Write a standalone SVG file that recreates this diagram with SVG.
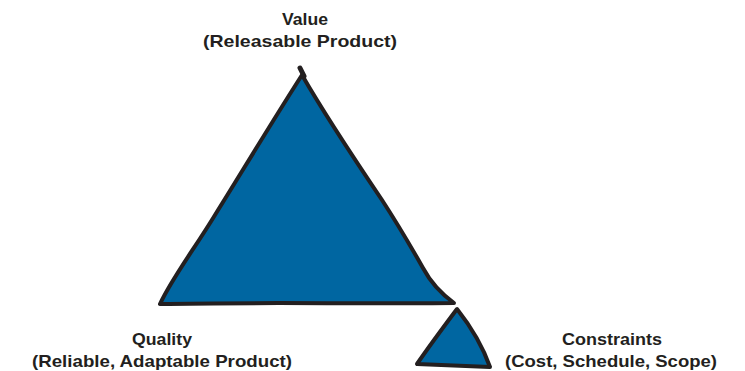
<svg xmlns="http://www.w3.org/2000/svg" width="745" height="371" viewBox="0 0 745 371">
<style>
.tri{fill:#0066a1;stroke:#231f20;stroke-width:4;stroke-linejoin:round;stroke-linecap:round}
.lbl{font-family:"Liberation Sans",Arial,sans-serif;font-weight:bold;font-size:17px;fill:#231f20;text-anchor:middle}
</style>
<rect width="745" height="371" fill="#ffffff"/>
<g id="value-triangle">
<path class="tri" d="M302,75 C270,125 240,175 215,215 C195,248 172,278 160,304 C250,302 360,304 454,303 C443,295 432,285 423,268 C410,245 395,220 382,200 C355,160 325,115 302,75 Z"/>
<path d="M300,68 L304,76" stroke="#231f20" stroke-width="5" stroke-linecap="round" fill="none"/>
</g>
<g id="constraints-triangle">
<path class="tri" d="M457,309 C445,325 430,345 417,364 C440,365 465,366 490,367 C484,350 472,328 457,309 Z"/>
</g>
<g id="labels">
<text class="lbl" x="305" y="25" textLength="46" lengthAdjust="spacingAndGlyphs">Value</text>
<text class="lbl" x="300" y="47" textLength="194" lengthAdjust="spacingAndGlyphs">(Releasable Product)</text>
<text class="lbl" x="162" y="345" textLength="60" lengthAdjust="spacingAndGlyphs">Quality</text>
<text class="lbl" x="162" y="367" textLength="260" lengthAdjust="spacingAndGlyphs">(Reliable, Adaptable Product)</text>
<text class="lbl" x="612" y="345" textLength="100" lengthAdjust="spacingAndGlyphs">Constraints</text>
<text class="lbl" x="611" y="367" textLength="212" lengthAdjust="spacingAndGlyphs">(Cost, Schedule, Scope)</text>
</g>
</svg>
